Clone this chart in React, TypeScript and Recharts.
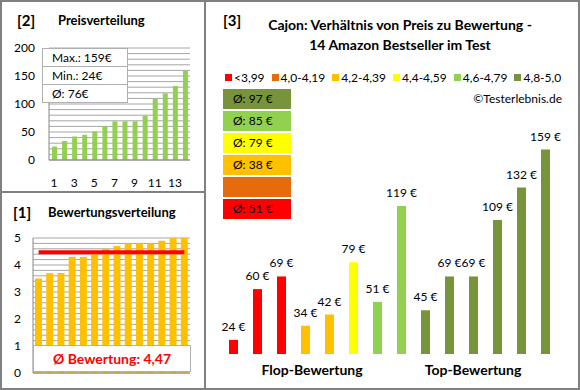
import { BarChart, Bar, XAxis, YAxis, CartesianGrid, Cell, LabelList, ReferenceLine } from "recharts"

// 14 products, ordered as in chart [3] (by rating, then price)
const prices = [24, 60, 69, 34, 42, 79, 51, 119, 45, 69, 69, 109, 132, 159]
const ratings = [3.5, 3.7, 3.7, 4.3, 4.3, 4.5, 4.6, 4.7, 4.8, 4.8, 4.8, 4.9, 5.0, 5.0]
const avgRating = 4.47

const classLabels = ["<3,99", "4,0-4,19", "4,2-4,39", "4,4-4,59", "4,6-4,79", "4,8-5,0"]
const classUpper = [4.0, 4.2, 4.4, 4.6, 4.8, 5.01]
const classColors = ["#ff0000", "#e46c0a", "#ffc000", "#ffff00", "#92d050", "#77933c"]
const classAvgLabels = ["Ø: 51 €", "", "Ø: 38 €", "Ø: 79 €", "Ø: 85 €", "Ø: 97 €"]

const priceTicks = [0, 10, 20, 30, 40, 50, 60, 70, 80, 90, 100, 110, 120, 130, 140, 150, 160, 170, 180, 190, 200]
const ratingTicks = [0, 0.2, 0.4, 0.6, 0.8, 1, 1.2, 1.4, 1.6, 1.8, 2, 2.2, 2.4, 2.6, 2.8, 3, 3.2, 3.4, 3.6, 3.8, 4, 4.2, 4.4, 4.6, 4.8, 5]
const groupLabels = ["Flop-Bewertung", "Top-Bewertung"]

const FONT = "Lato, 'Liberation Sans', sans-serif"
const GRID = "#a6a6a6"
const AXIS = "#868686"

const classOf = (r: number) => classUpper.findIndex((u) => r < u)

const sortedPrices = [...prices].sort((a, b) => a - b)
const priceRows = sortedPrices.map((p, i) => ({ rank: String(i + 1), price: p }))
const ratingRows = ratings.map((r, i) => ({ rank: String(i + 1), rating: r }))
const mainRows = prices.map((p, i) => ({ rank: String(i + 1), price: p, rating: ratings[i] }))

const maxPrice = Math.max(...prices)
const minPrice = Math.min(...prices)
const avgPrice = Math.round(prices.reduce((s, p) => s + p, 0) / prices.length)

const txt = (left: number, cy: number, size: number, bold: boolean, content: string, extra: any = {}) => (
  <div
    style={{
      position: "absolute",
      left,
      top: cy - 10,
      height: 20,
      lineHeight: "20px",
      fontSize: size,
      fontWeight: bold ? 700 : 400,
      whiteSpace: "nowrap",
      ...extra,
    }}
  >
    {content}
  </div>
)

const PriceLabel = (props: any) => {
  const { x, y, width, value } = props
  return (
    <text x={Number(x) + Number(width) / 2} y={Number(y) - 9} textAnchor="middle" fontSize={12} fill="#000" fontFamily={FONT}>
      {`${value} €`}
    </text>
  )
}

export default function App() {
  return (
    <div
      style={{
        position: "absolute",
        left: 0,
        top: 0,
        width: 580,
        height: 390,
        background: "#fff",
        fontFamily: FONT,
        color: "#000",
        overflow: "hidden",
      }}
    >
      {/* [2] Preisverteilung */}
      <div style={{ position: "absolute", left: 0, top: 0 }}>
        <BarChart width={200} height={192} data={priceRows} margin={{ top: 48, right: 10, left: 19, bottom: 12 }}>
          <CartesianGrid vertical={false} stroke={GRID} />
          <XAxis
            dataKey="rank"
            interval={1}
            tickLine={false}
            axisLine={{ stroke: AXIS }}
            tickSize={6}
            tickMargin={12}
            height={20}
            tick={{ fontSize: 12, fill: "#000", fontFamily: FONT }}
          />
          <YAxis
            domain={[0, 200]}
            ticks={priceTicks}
            interval={0}
            tickFormatter={(v: number) => (v % 50 === 0 ? String(v) : "")}
            width={30}
            tickLine={false}
            axisLine={{ stroke: AXIS }}
            tickSize={6}
            tickMargin={8}
            tick={{ fontSize: 12, fill: "#000", fontFamily: FONT }}
          />
          <Bar dataKey="price" fill="#92d050" barSize={5} isAnimationActive={false} />
        </BarChart>
      </div>
      <div
        style={{
          position: "absolute",
          left: 42,
          top: 48,
          width: 84,
          background: "#fff",
          border: "1px solid #b0b0b0",
          fontSize: 12,
        }}
      >
        {[`Max.: ${maxPrice}€`, `Min.: ${minPrice}€`, `Ø: ${avgPrice}€`].map((t, i) => (
          <div
            key={t}
            style={{
              height: 17,
              lineHeight: "17px",
              paddingLeft: 9,
              borderTop: i > 0 ? "1px solid #b0b0b0" : "none",
            }}
          >
            {t}
          </div>
        ))}
      </div>
      {txt(17, 20, 15, true, "[2]")}
      {txt(58, 20, 13, true, "Preisverteilung")}

      {/* [1] Bewertungsverteilung */}
      <div style={{ position: "absolute", left: 0, top: 195 }}>
        <BarChart width={200} height={190} data={ratingRows} margin={{ top: 43, right: 10, left: 8, bottom: 12 }}>
          <CartesianGrid vertical={false} stroke={GRID} />
          <XAxis dataKey="rank" hide />
          <YAxis
            domain={[0, 5]}
            ticks={ratingTicks}
            interval={0}
            tickFormatter={(v: number) => (Number.isInteger(v) ? String(v) : "")}
            width={25}
            tickLine={false}
            axisLine={{ stroke: AXIS }}
            tickSize={6}
            tickMargin={6}
            tick={{ fontSize: 12, fill: "#000", fontFamily: FONT }}
          />
          <Bar dataKey="rating" fill="#ffc000" barSize={7} isAnimationActive={false} />
          <ReferenceLine y={0} stroke={AXIS} />
          <ReferenceLine
            segment={[
              { x: ratingRows[0].rank, y: avgRating },
              { x: ratingRows[ratingRows.length - 1].rank, y: avgRating },
            ]}
            stroke="#ff0000"
            strokeWidth={4}
          />
        </BarChart>
      </div>
      <div
        style={{
          position: "absolute",
          left: 33,
          top: 345,
          width: 156,
          height: 25,
          lineHeight: "25px",
          background: "#fff",
          border: "1px solid #b0b0b0",
          textAlign: "center",
          color: "#ff0000",
          fontWeight: 700,
          fontSize: 14,
        }}
      >
        {`Ø Bewertung: ${avgRating.toFixed(2).replace(".", ",")}`}
      </div>
      {txt(13, 212, 15, true, "[1]")}
      {txt(48, 212, 13, true, "Bewertungsverteilung")}

      {/* [3] Preis zu Bewertung */}
      <div style={{ position: "absolute", left: 205, top: 120 }}>
        <BarChart width={375} height={270} data={mainRows} margin={{ top: 14, right: 23, left: 16, bottom: 36 }}>
          <XAxis dataKey="rank" hide />
          <YAxis hide domain={[14, 170]} allowDataOverflow />
          <Bar dataKey="price" barSize={9} isAnimationActive={false}>
            {mainRows.map((row, i) => (
              <Cell key={i} fill={classColors[classOf(row.rating)]} />
            ))}
            <LabelList dataKey="price" content={PriceLabel} />
          </Bar>
        </BarChart>
      </div>
      {txt(223, 20, 15, true, "[3]")}
      {txt(200, 25, 14, true, "Cajon: Verhältnis von Preis zu Bewertung -", { width: 400, textAlign: "center" })}
      {txt(200, 45, 14, true, "14 Amazon Bestseller im Test", { width: 400, textAlign: "center" })}
      <div
        style={{
          position: "absolute",
          left: 225,
          top: 67,
          height: 20,
          display: "flex",
          alignItems: "center",
          gap: 7,
          fontSize: 12,
          whiteSpace: "nowrap",
        }}
      >
        {classLabels.map((l, i) => (
          <div key={l} style={{ display: "flex", alignItems: "center", gap: 2 }}>
            <span style={{ display: "inline-block", width: 7, height: 7, background: classColors[i] }} />
            <span>{l}</span>
          </div>
        ))}
      </div>
      {txt(0, 99, 12, false, "©Testerlebnis.de", { left: "auto", right: 18 })}
      {classColors
        .map((c, i) => ({ c, label: classAvgLabels[i] }))
        .reverse()
        .map((b, i) => (
          <div
            key={i}
            style={{
              position: "absolute",
              left: 223,
              top: 89 + i * 22,
              width: 68,
              height: 20,
              lineHeight: "20px",
              background: b.c,
              paddingLeft: 10,
              boxSizing: "border-box",
              fontSize: 12,
            }}
          >
            {b.label}
          </div>
        ))}
      {groupLabels.map((g, i) => (
        <div
          key={g}
          style={{
            position: "absolute",
            left: (i === 0 ? 312 : 473) - 60,
            width: 120,
            top: 360,
            height: 20,
            lineHeight: "20px",
            textAlign: "center",
            fontSize: 14,
            fontWeight: 700,
          }}
        >
          {g}
        </div>
      ))}

      {/* frame */}
      <div style={{ position: "absolute", left: 0, top: 0, width: 580, height: 390, boxSizing: "border-box", border: "2px solid #808080" }} />
      <div style={{ position: "absolute", left: 204, top: 0, width: 2, height: 390, background: "#808080" }} />
      <div style={{ position: "absolute", left: 0, top: 191, width: 205, height: 2, background: "#808080" }} />
    </div>
  )
}
